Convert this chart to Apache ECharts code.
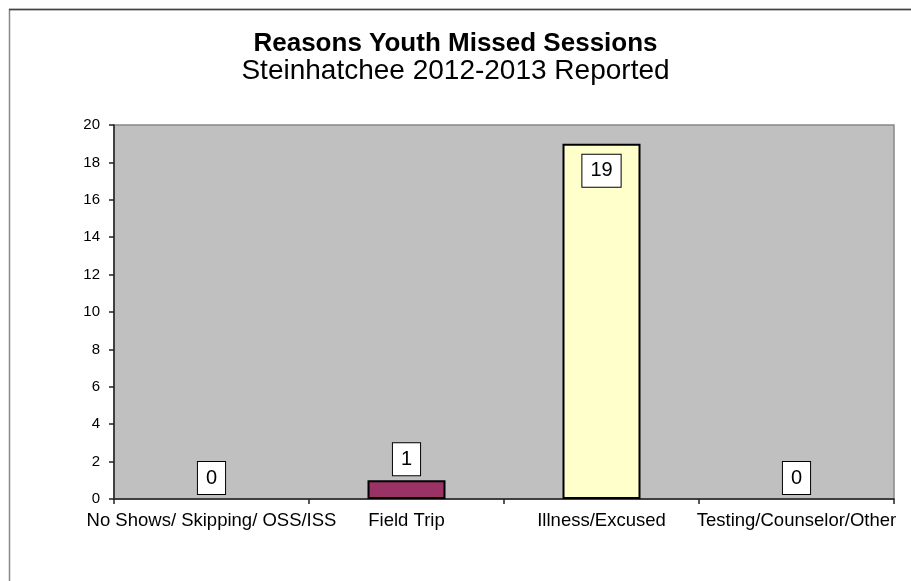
<!DOCTYPE html>
<html>
<head>
<meta charset="utf-8">
<script src="https://cdn.jsdelivr.net/npm/echarts@6/dist/echarts.min.js"></script>
<style>
  html, body { margin: 0; padding: 0; background: #fff; }
  #chart { width: 911px; height: 581px; }
</style>
</head>
<body>
<div id="chart"></div>
<script>
// Reasons youth missed sessions, Steinhatchee 2012-2013
const categories = ['No Shows/ Skipping/ OSS/ISS', 'Field Trip', 'Illness/Excused', 'Testing/Counselor/Other'];
const missedCounts = [0, 1, 19, 0];
const barColors = ['#9999FF', '#993366', '#FFFFCC', '#CCFFFF'];
const yTicks = { min: 0, max: 20, interval: 2 };

const FONT = '"Liberation Sans", Arial, sans-serif';
const yMax = yTicks.max;

const chart = echarts.init(document.getElementById('chart'), null, { renderer: 'canvas' });

const barData = missedCounts.map((v, i) => {
  const item = {
    value: v,
    itemStyle: {
      color: barColors[i],
      borderColor: '#000',
      borderWidth: v > 0 ? 2 : 0
    }
  };
  // a label that would leave the plot goes inside the bar top
  if (v > yMax * 0.85) {
    item.label = { position: 'insideTop', distance: 11 };
  }
  return item;
});

chart.setOption({
  backgroundColor: '#fff',
  animation: false,
  title: {
    text: 'Reasons Youth Missed Sessions',
    subtext: 'Steinhatchee 2012-2013 Reported',
    left: 'center',
    top: 26,
    itemGap: 0,
    textStyle: { fontFamily: FONT, fontSize: 26, fontWeight: 'bold', color: '#000' },
    subtextStyle: { fontFamily: FONT, fontSize: 28, color: '#000' }
  },
  graphic: [
    {
      type: 'rect', silent: true, z: -1,
      shape: { x: 9.5, y: 9.5, width: 1000, height: 1000 },
      style: { fill: 'none', stroke: '#888', lineWidth: 1.5 }
    },
    {
      type: 'line', silent: true, z: -1,
      shape: { x1: 9, y1: 9.5, x2: 911, y2: 9.5 },
      style: { stroke: '#444', lineWidth: 1.5 }
    }
  ],
  grid: {
    left: 114, right: 17, top: 125, bottom: 82,
    show: true,
    backgroundColor: '#C0C0C0',
    borderColor: '#888',
    borderWidth: 1.5
  },
  xAxis: {
    type: 'category',
    data: categories,
    boundaryGap: true,
    axisLine: { lineStyle: { color: '#222', width: 1.5 } },
    axisTick: { show: true, length: 5, lineStyle: { color: '#222', width: 1.5 } },
    axisLabel: { interval: 0, margin: 12, fontFamily: FONT, fontSize: 18.5, color: '#000' }
  },
  yAxis: {
    type: 'value',
    min: yTicks.min, max: yTicks.max, interval: yTicks.interval,
    axisLine: { show: true, lineStyle: { color: '#222', width: 1.5 } },
    axisTick: { show: true, length: 5, lineStyle: { color: '#222', width: 1.5 } },
    splitLine: { show: false },
    axisLabel: { margin: 14, fontFamily: FONT, fontSize: 15, color: '#000' }
  },
  series: [{
    type: 'bar',
    data: barData,
    barWidth: '40%',
    label: {
      show: true,
      position: 'top',
      distance: 5,
      fontFamily: FONT,
      fontSize: 20,
      lineHeight: 22,
      color: '#000',
      backgroundColor: '#fff',
      borderColor: '#000',
      borderWidth: 1,
      padding: [5, 8, 5, 8]
    }
  }]
});
</script>
</body>
</html>
